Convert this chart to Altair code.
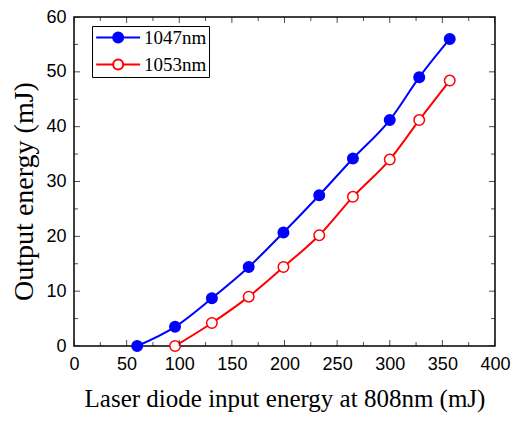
import altair as alt
import pandas as pd

# ---- data ----
series_names = ["1047nm", "1053nm"]
x_1047 = [60, 96, 131, 166, 199, 233, 265, 300, 328, 357]
y_1047 = [0.0, 3.5, 8.7, 14.4, 20.7, 27.5, 34.2, 41.2, 49.0, 56.0]
x_1053 = [96, 131, 166, 199, 233, 265, 300, 328, 357]
y_1053 = [0.0, 4.2, 9.0, 14.4, 20.2, 27.2, 34.0, 41.2, 48.4]

x_major = [0, 50, 100, 150, 200, 250, 300, 350, 400]
x_minor = [25, 75, 125, 175, 225, 275, 325, 375]
y_major = [0, 10, 20, 30, 40, 50, 60]
y_minor = [5, 15, 25, 35, 45, 55]

x_title = "Laser diode input energy at 808nm (mJ)"
y_title = "Output energy (mJ)"

# ---- layout ----
W, H = 421, 329
MAJ, MIN = 12, 8  # tick mark length (half is clipped away, leaving inward ticks)

df = pd.concat([
    pd.DataFrame({"x": x_1047, "y": y_1047, "series": series_names[0]}),
    pd.DataFrame({"x": x_1053, "y": y_1053, "series": series_names[1]}),
], ignore_index=True)

xt = pd.DataFrame({"v": x_major + x_minor, "s": [MAJ] * len(x_major) + [MIN] * len(x_minor)})
yt = pd.DataFrame({"v": y_major + y_minor, "s": [MAJ] * len(y_major) + [MIN] * len(y_minor)})

xscale = alt.Scale(domain=[0, 400], nice=False, zero=False)
yscale = alt.Scale(domain=[0, 60], nice=False, zero=False)

stroke_scale = alt.Scale(domain=series_names, range=["#0000ff", "#ff0000"])
fill_scale = alt.Scale(domain=series_names, range=["#0000ff", "#ffffff"])

legend_path = "M-1,0H1.32M2.68,0H5M1.32,0A0.68,0.68,0,1,1,2.68,0A0.68,0.68,0,1,1,1.32,0Z"

def mk_legend():
    return alt.Legend(
        title=None,
        orient="none",
        legendX=18,
        legendY=9,
        symbolType=legend_path,
        symbolSize=215,
        symbolStrokeWidth=2,
        labelFont="Liberation Serif",
        labelFontSize=19,
        labelColor="black",
        labelOffset=31,
        rowPadding=7,
        padding=2,
        strokeColor="black",
        fillColor="white",
    )

x_axis = alt.Axis(
    values=x_major, title=x_title, labelFont="Liberation Sans", labelFontSize=18,
    labelColor="black", labelPadding=9, labelFlush=False, ticks=False, domain=False, grid=False,
    titleFont="Liberation Serif", titleFontSize=25, titleFontWeight="normal",
    titleColor="black", titleBaseline="alphabetic", titleY=60,
)
y_axis = alt.Axis(
    values=y_major, title=y_title, labelFont="Liberation Sans", labelFontSize=18,
    labelColor="black", labelPadding=8, labelFlush=False, ticks=False, domain=False, grid=False,
    titleFont="Liberation Serif", titleFontSize=28, titleFontWeight="normal",
    titleColor="black", titleBaseline="alphabetic", titleX=-42, titleY=174,
)

lines = alt.Chart(df).mark_line(interpolate="monotone", strokeWidth=2).encode(
    x=alt.X("x:Q", scale=xscale, axis=x_axis),
    y=alt.Y("y:Q", scale=yscale, axis=y_axis),
    stroke=alt.Stroke("series:N", scale=stroke_scale, legend=mk_legend()),
    detail="series:N",
)

points = alt.Chart(df).mark_point(shape="circle", size=110, strokeWidth=1.5, opacity=1, filled=True).encode(
    x=alt.X("x:Q", scale=xscale, axis=None),
    y=alt.Y("y:Q", scale=yscale, axis=None),
    stroke=alt.Stroke("series:N", scale=stroke_scale, legend=mk_legend()),
    fill=alt.Fill("series:N", scale=fill_scale, legend=mk_legend()),
)

def xticks(ypix):
    return alt.Chart(xt).mark_tick(clip=True, color="black", thickness=1, orient="vertical").encode(
        x=alt.X("v:Q", scale=xscale, axis=None),
        y=alt.value(ypix),
        size=alt.Size("s:Q", scale=None),
    )

def yticks(xpix):
    return alt.Chart(yt).mark_tick(clip=True, color="black", thickness=1, orient="horizontal").encode(
        y=alt.Y("v:Q", scale=yscale, axis=None),
        x=alt.value(xpix),
        size=alt.Size("s:Q", scale=None),
    )

chart = alt.layer(
    lines, points, xticks(H), xticks(0), yticks(0), yticks(W)
).resolve_axis(
    x="independent", y="independent"
).properties(
    width=W,
    height=H,
    padding={"left": 66, "top": 9, "right": 16, "bottom": 67},
    autosize=alt.AutoSizeParams(type="none"),
    background="white",
).configure_view(
    stroke="black", strokeWidth=1.5
)

chart.save("out.html", embed_options={"renderer": "svg", "actions": False})
